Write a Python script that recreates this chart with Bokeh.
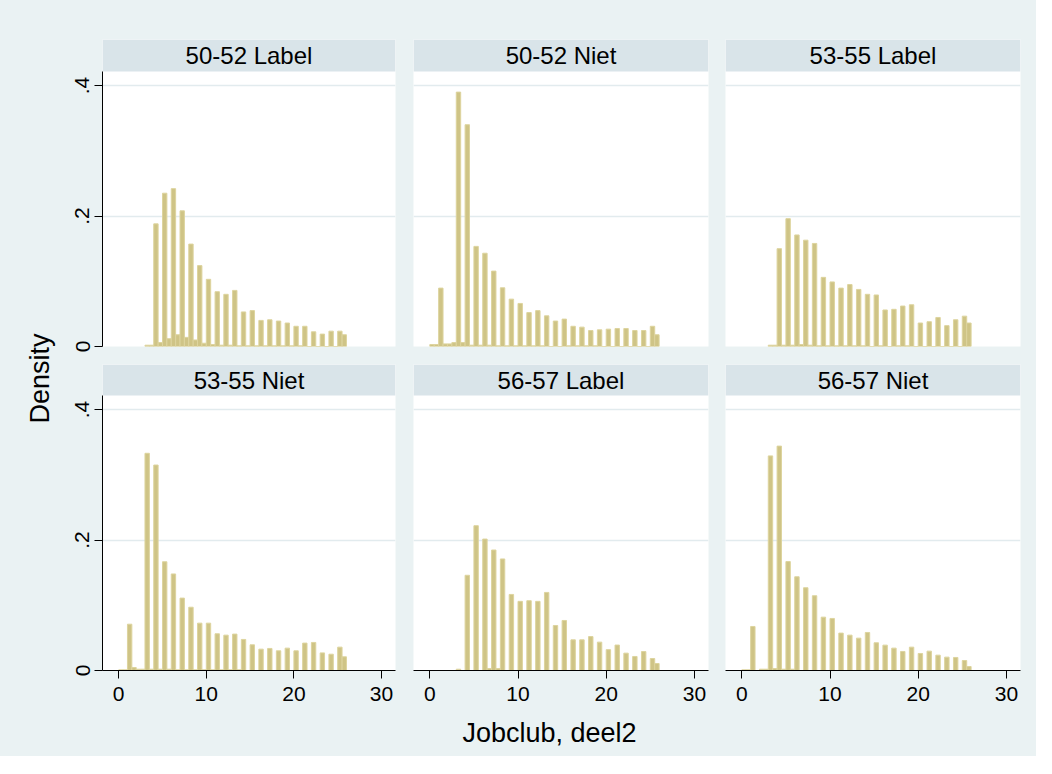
import numpy as np
from bokeh.plotting import figure
from bokeh.models import Range1d, FixedTicker, Label
from bokeh.layouts import row, column
from bokeh.embed import file_html
from bokeh.resources import INLINE

# ---------------- data (density per bin, bin width 0.5) ----------------
panel_labels = ["50-52 Label", "50-52 Niet", "53-55 Label",
                "53-55 Niet", "56-57 Label", "56-57 Niet"]
bin_starts = [3.0, 0.0, 3.0, 0.0, 3.0, 0.0]
bin_width = 0.5

dens_5052_label = [0.002, 0.002, 0.188, 0.006, 0.235, 0.012, 0.242, 0.018, 0.208, 0.014,
                   0.157, 0.010, 0.124, 0.005, 0.103, 0.003, 0.084, 0.002, 0.080, 0.002,
                   0.086, 0.001, 0.053, 0.001, 0.055, 0.001, 0.040, 0.001, 0.041, 0.001,
                   0.039, 0.001, 0.036, 0.001, 0.031, 0.001, 0.031, 0.0, 0.0225, 0.0,
                   0.019, 0.0, 0.0235, 0.0, 0.0235, 0.018]
dens_5052_niet = [0.003, 0.003, 0.0895, 0.004, 0.004, 0.006, 0.390, 0.006, 0.340, 0.002,
                  0.1535, 0.002, 0.143, 0.002, 0.1156, 0.001, 0.090, 0.001, 0.0726, 0.001,
                  0.066, 0.001, 0.052, 0.001, 0.055, 0.001, 0.047, 0.0, 0.039, 0.0,
                  0.042, 0.001, 0.031, 0.001, 0.0297, 0.001, 0.0245, 0.001, 0.0256, 0.0,
                  0.0266, 0.0, 0.0276, 0.0, 0.0276, 0.0, 0.0245, 0.0, 0.0245, 0.0,
                  0.031, 0.018]
dens_5355_label = [0.002, 0.002, 0.150, 0.002, 0.196, 0.002, 0.171, 0.003, 0.163, 0.002,
                   0.158, 0.001, 0.106, 0.001, 0.099, 0.001, 0.0895, 0.001, 0.095, 0.001,
                   0.0875, 0.001, 0.080, 0.0, 0.079, 0.001, 0.056, 0.0, 0.057, 0.001,
                   0.062, 0.001, 0.064, 0.0, 0.036, 0.0, 0.038, 0.0, 0.0445, 0.0,
                   0.032, 0.0, 0.041, 0.0, 0.0465, 0.036]
dens_5355_niet = [0.001, 0.001, 0.071, 0.0046, 0.002, 0.002, 0.333, 0.002, 0.315, 0.002,
                  0.1667, 0.002, 0.148, 0.001, 0.111, 0.001, 0.097, 0.001, 0.0726, 0.001,
                  0.0726, 0.001, 0.0563, 0.001, 0.0542, 0.001, 0.0558, 0.001, 0.0476, 0.0,
                  0.0394, 0.0, 0.0327, 0.0, 0.0338, 0.0, 0.0302, 0.0, 0.0343, 0.0,
                  0.0302, 0.0, 0.042, 0.0, 0.043, 0.0, 0.027, 0.0, 0.025, 0.0,
                  0.0358, 0.021]
dens_5657_label = [0.002, 0.0, 0.146, 0.0, 0.222, 0.0, 0.2015, 0.003, 0.1847, 0.003,
                   0.171, 0.0, 0.1166, 0.0, 0.106, 0.0, 0.107, 0.0, 0.106, 0.0,
                   0.1197, 0.0, 0.069, 0.0, 0.0767, 0.0, 0.047, 0.0, 0.047, 0.0,
                   0.052, 0.0, 0.0435, 0.0, 0.032, 0.0, 0.039, 0.0, 0.0266, 0.0,
                   0.0215, 0.0, 0.029, 0.0, 0.0184, 0.0107]
dens_5657_niet = [0.001, 0.001, 0.0675, 0.0, 0.002, 0.002, 0.329, 0.003, 0.344, 0.002,
                  0.167, 0.002, 0.1437, 0.0, 0.1269, 0.0, 0.1146, 0.0, 0.0818, 0.0,
                  0.0798, 0.0, 0.0573, 0.0, 0.0542, 0.0, 0.0496, 0.0, 0.0583, 0.0,
                  0.0425, 0.0, 0.0389, 0.0, 0.0343, 0.0, 0.0292, 0.0, 0.0358, 0.0,
                  0.0261, 0.0, 0.0297, 0.0, 0.0235, 0.0, 0.0205, 0.0, 0.020, 0.0,
                  0.0153, 0.0061]

densities = [dens_5052_label, dens_5052_niet, dens_5355_label,
             dens_5355_niet, dens_5657_label, dens_5657_niet]

x_ticks = [0, 10, 20, 30]
y_ticks = [0, 0.2, 0.4]
y_tick_labels = {0: "0", 0.2: ".2", 0.4: ".4"}
x_title = "Jobclub, deel2"
y_title = "Density"

# ---------------- style ----------------
FONT = "Liberation Sans"
BG = "#EAF2F3"
STRIP = "#D9E4E9"
GRID = "#E2EBEE"
BAR_FILL = "#CFC486"
BAR_LINE = "#DDD49E"

X_RANGE = (-1.85, 31.6)
Y_TOP = 0.4216
PLOT_PX = 275

col_specs = [(344, 42, 9), (312, 9, 8), (320, 9, 16)]      # width, border left, border right
row_specs = [(39, 32, 18), (0, 31, 44)]                      # border top, strip px, border bottom


def make_panel(idx, r, c):
    width, bl, br = col_specs[c]
    bt, strip_px, bb = row_specs[r]
    height = bt + PLOT_PX + strip_px + bb
    y_end = Y_TOP * (PLOT_PX + strip_px) / PLOT_PX
    p = figure(width=width, height=height, output_backend="svg", toolbar_location=None,
               x_range=Range1d(*X_RANGE), y_range=Range1d(0, y_end),
               x_axis_location="below" if r == 1 else None,
               y_axis_location="left" if c == 0 else None,
               min_border=0,
               min_border_left=bl, min_border_right=br,
               min_border_top=bt, min_border_bottom=bb)
    p.background_fill_color = "white"
    p.border_fill_color = BG
    p.outline_line_color = None
    p.xgrid.visible = False
    p.ygrid.ticker = FixedTicker(ticks=[t for t in y_ticks if t > 0])
    p.ygrid.grid_line_color = GRID
    p.ygrid.grid_line_width = 1.5

    # histogram bars
    d = np.array(densities[idx])
    left = bin_starts[idx] + np.arange(len(d)) * bin_width
    p.quad(left=left, right=left + bin_width, bottom=0, top=d,
           fill_color=BAR_FILL, line_color=BAR_LINE, line_width=1)

    # strip with panel label
    p.quad(left=[X_RANGE[0]], right=[X_RANGE[1]], bottom=[Y_TOP], top=[y_end],
           fill_color=STRIP, line_color=None)
    p.add_layout(Label(x=(X_RANGE[0] + X_RANGE[1]) / 2, y=(Y_TOP + y_end) / 2,
                       text=panel_labels[idx], text_align="center", text_baseline="middle",
                       text_font=FONT, text_font_size="24px", text_color="black"))

    for ax in p.axis:
        ax.axis_line_color = "black"
        ax.axis_line_width = 1
        ax.major_tick_line_color = "black"
        ax.major_tick_out = 8
        ax.major_tick_in = 0
        ax.minor_tick_line_color = None
        ax.major_label_text_font = FONT
        ax.major_label_text_font_size = "21px"
        ax.major_label_text_color = "black"
    if r == 1:
        p.xaxis.ticker = FixedTicker(ticks=x_ticks)
        p.xaxis.major_label_standoff = 8
    if c == 0:
        p.yaxis.ticker = FixedTicker(ticks=y_ticks)
        p.yaxis.major_label_overrides = y_tick_labels
        p.yaxis.major_label_orientation = "parallel"
        p.yaxis.major_label_standoff = 5
        p.yaxis.bounds = (0, Y_TOP)
    return p


panels = [make_panel(i, i // 3, i % 3) for i in range(6)]

grid_h = sum(bt + PLOT_PX + s + bb for bt, s, bb in row_specs)

left_fig = figure(width=60, height=grid_h, output_backend="svg", toolbar_location=None,
                  x_range=Range1d(0, 60), y_range=Range1d(0, grid_h),
                  x_axis_location=None, y_axis_location=None, min_border=0,
                  min_border_left=0, min_border_right=0, min_border_top=0, min_border_bottom=0)
left_fig.background_fill_color = BG
left_fig.border_fill_color = BG
left_fig.outline_line_color = None
left_fig.grid.visible = False
left_fig.add_layout(Label(x=39, y=grid_h - 378, text=y_title, angle=np.pi / 2,
                          text_align="center", text_baseline="middle",
                          text_font=FONT, text_font_size="27px", text_color="black"))

total_w = 60 + sum(w for w, _, _ in col_specs)
bottom_h = 42
bottom_fig = figure(width=total_w, height=bottom_h, output_backend="svg", toolbar_location=None,
                    x_range=Range1d(0, total_w), y_range=Range1d(0, bottom_h),
                    x_axis_location=None, y_axis_location=None, min_border=0,
                    min_border_left=0, min_border_right=0, min_border_top=0, min_border_bottom=0)
bottom_fig.background_fill_color = BG
bottom_fig.border_fill_color = BG
bottom_fig.outline_line_color = None
bottom_fig.grid.visible = False
bottom_fig.add_layout(Label(x=549, y=bottom_h - 18, text=x_title,
                            text_align="center", text_baseline="middle",
                            text_font=FONT, text_font_size="27px", text_color="black"))

bg_style = {"background-color": BG}
layout = column(row(left_fig,
                    column(row(*panels[:3], styles=bg_style),
                           row(*panels[3:], styles=bg_style), styles=bg_style),
                    styles=bg_style),
                bottom_fig, styles=bg_style)

open("out.html", "w").write(file_html(layout, INLINE))
